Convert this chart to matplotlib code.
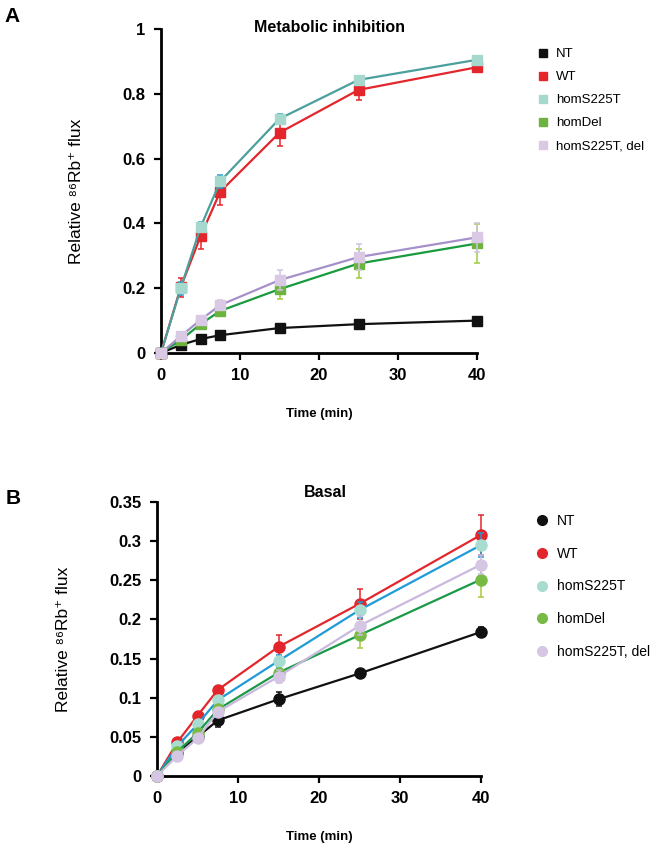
import matplotlib
matplotlib.use("Agg")
import matplotlib.pyplot as plt
from matplotlib.lines import Line2D

# ---------------------------------------------------------------------------
# DADOS
# ---------------------------------------------------------------------------

tempo = [0, 2.5, 5, 7.5, 15, 25, 40]
grupos = ["NT", "WT", "homS225T", "homDel", "homS225T, del"]

# painel A - Metabolic inhibition
a_nt = [0, 0.025, 0.043, 0.055, 0.077, 0.089, 0.100]
a_wt = [0, 0.203, 0.360, 0.498, 0.680, 0.812, 0.882]
a_s225t = [0, 0.200, 0.388, 0.530, 0.723, 0.843, 0.905]
a_del = [0, 0.040, 0.089, 0.130, 0.197, 0.276, 0.338]
a_s225t_del = [0, 0.052, 0.102, 0.148, 0.225, 0.296, 0.357]

a_err_nt = [0, 0.003, 0.004, 0.005, 0.006, 0.006, 0.006]
a_err_wt = [0, 0.030, 0.040, 0.040, 0.040, 0.030, 0.010]
a_err_s225t = [0, 0.020, 0.015, 0.020, 0.015, 0.010, 0.008]
a_err_del = [0, 0.005, 0.010, 0.015, 0.030, 0.045, 0.060]
a_err_s225t_del = [0, 0.005, 0.010, 0.015, 0.030, 0.040, 0.045]

# painel B - Basal
b_nt = [0, 0.030, 0.050, 0.071, 0.098, 0.131, 0.184]
b_wt = [0, 0.043, 0.077, 0.110, 0.165, 0.220, 0.308]
b_s225t = [0, 0.038, 0.066, 0.097, 0.147, 0.212, 0.295]
b_del = [0, 0.031, 0.055, 0.085, 0.132, 0.180, 0.251]
b_s225t_del = [0, 0.026, 0.048, 0.082, 0.127, 0.192, 0.270]

b_err_nt = [0, 0.003, 0.005, 0.008, 0.009, 0.004, 0.006]
b_err_wt = [0, 0.004, 0.005, 0.005, 0.015, 0.019, 0.026]
b_err_s225t = [0, 0.003, 0.004, 0.005, 0.008, 0.010, 0.015]
b_err_del = [0, 0.004, 0.005, 0.005, 0.008, 0.016, 0.022]
b_err_s225t_del = [0, 0.003, 0.005, 0.005, 0.008, 0.012, 0.012]

# cores: (linha, marcador, barra de erro)
cores_a = [
    ("#111111", "#111111", "#111111"),
    ("#e3262b", "#e3262b", "#e3262b"),
    ("#4b9f9c", "#a6d8cd", "#2a9fd6"),
    ("#1a9a3e", "#6cb33f", "#9ccc3a"),
    ("#a590c9", "#d9c9e4", "#d0c4dc"),
]
cores_b = [
    ("#111111", "#111111", "#111111"),
    ("#e3262b", "#e3262b", "#e3262b"),
    ("#1f9bd7", "#a8dcd1", "#1f9bd7"),
    ("#1a9a48", "#77bb44", "#a8c83a"),
    ("#c9badd", "#d5c6e3", "#c9badd"),
]

# ---------------------------------------------------------------------------
# ESTILO
# ---------------------------------------------------------------------------

plt.rcParams.update(
    {
        "font.family": ["Liberation Sans", "DejaVu Sans"],
        "axes.linewidth": 2.0,
    }
)

W, H = 656, 848
fig = plt.figure(figsize=(W / 100, H / 100), dpi=100)


def caixa(x0, y0, x1, y1):
    """Converte pixels (origem no topo) para [left, bottom, width, height]."""
    return [x0 / W, 1 - y1 / H, (x1 - x0) / W, (y1 - y0) / H]


def painel(ax, series, erros, cores, marcador, msize, ymax, ypasso):
    for i, (y, e) in enumerate(zip(series, erros)):
        lc, mc, ec = cores[i]
        ax.errorbar(
            tempo,
            y,
            yerr=e,
            color=lc,
            linewidth=1.6,
            marker=marcador,
            markersize=msize,
            markerfacecolor=mc,
            markeredgecolor=mc,
            ecolor=ec,
            elinewidth=1.1,
            capsize=2.5,
            capthick=1.1,
            clip_on=False,
            zorder=3 + i * 0.1,
        )
    ax.set_xlim(0, 40)
    ax.set_ylim(0, ymax)
    ax.set_xticks([0, 10, 20, 30, 40])
    yt = [round(k * ypasso, 3) for k in range(int(round(ymax / ypasso)) + 1)]
    ax.set_yticks(yt)
    ax.set_yticklabels(["%g" % v for v in yt])
    for s in ["top", "right"]:
        ax.spines[s].set_visible(False)
    ax.tick_params(
        which="major", direction="out", length=5, width=1.6, labelsize=12, pad=6
    )
    for lab in ax.get_xticklabels() + ax.get_yticklabels():
        lab.set_fontweight("bold")
    ax.set_xlabel("Time (min)", fontsize=9.5, fontweight="bold", labelpad=18)
    ax.set_ylabel("Relative \u2078\u2076Rb\u207a flux", fontsize=12.5, labelpad=28)


# ---------------------------------------------------------------------------
# PAINEL A
# ---------------------------------------------------------------------------

ax_a = fig.add_axes(caixa(161, 29, 477, 353))
painel(
    ax_a,
    [a_nt, a_wt, a_s225t, a_del, a_s225t_del],
    [a_err_nt, a_err_wt, a_err_s225t, a_err_del, a_err_s225t_del],
    cores_a,
    "s",
    6.5,
    1.0,
    0.2,
)
fig.text(330 / W, 1 - 27 / H, "Metabolic inhibition", fontsize=11.5,
         fontweight="bold", ha="center", va="center")
fig.text(12 / W, 1 - 16 / H, "A", fontsize=15, fontweight="bold",
         ha="center", va="center")

handles_a = [
    Line2D([], [], linestyle="none", marker="s", markersize=6,
           markerfacecolor=c[1], markeredgecolor=c[1])
    for c in cores_a
]
fig.legend(
    handles_a, grupos, loc="upper left", bbox_to_anchor=(537 / W, 1 - 48 / H),
    frameon=False, fontsize=9.5, borderpad=0, borderaxespad=0,
    handlelength=0.9, handletextpad=0.55, labelspacing=0.82,
)

# ---------------------------------------------------------------------------
# PAINEL B
# ---------------------------------------------------------------------------

ax_b = fig.add_axes(caixa(157, 502, 481, 776))
painel(
    ax_b,
    [b_nt, b_wt, b_s225t, b_del, b_s225t_del],
    [b_err_nt, b_err_wt, b_err_s225t, b_err_del, b_err_s225t_del],
    cores_b,
    "o",
    8,
    0.35,
    0.05,
)
fig.text(325 / W, 1 - 492 / H, "Basal", fontsize=11.5, fontweight="bold",
         ha="center", va="center")
fig.text(13 / W, 1 - 498 / H, "B", fontsize=15, fontweight="bold",
         ha="center", va="center")

handles_b = [
    Line2D([], [], linestyle="none", marker="o", markersize=7,
           markerfacecolor=c[1], markeredgecolor=c[1])
    for c in cores_b
]
fig.legend(
    handles_b, grupos, loc="upper left", bbox_to_anchor=(536 / W, 1 - 514 / H),
    frameon=False, fontsize=10, borderpad=0, borderaxespad=0,
    handlelength=0.8, handletextpad=0.7, labelspacing=1.35,
)

fig.savefig("out.png", dpi=100, facecolor="white")
